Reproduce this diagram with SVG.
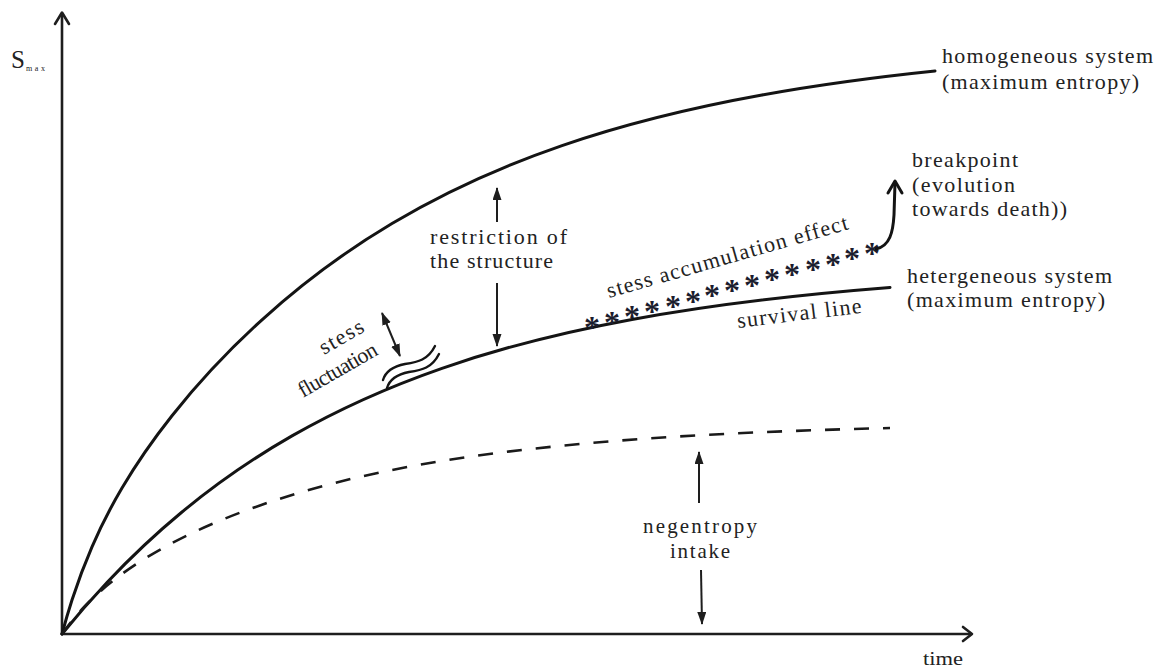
<svg xmlns="http://www.w3.org/2000/svg" width="1157" height="669" viewBox="0 0 1157 669">
<style>
.ax{fill:none;stroke:#1e1e1e;stroke-width:2.6;stroke-linecap:round;stroke-linejoin:round}
.cv{fill:none;stroke:#141414;stroke-width:3;stroke-linecap:round;stroke-linejoin:round}
.dash{fill:none;stroke:#1a1a1a;stroke-width:2.6;stroke-dasharray:15 14}
.arr{fill:none;stroke:#1e1e1e;stroke-width:2}
.lbl{font-family:"Liberation Serif","DejaVu Serif",serif;font-size:22px;fill:#222222}
.ast{font-family:"Liberation Serif","DejaVu Serif",serif;font-size:32px;font-weight:bold;fill:#1b1d2e;text-anchor:middle}
</style>
<defs>
<marker id="ah" markerUnits="userSpaceOnUse" markerWidth="14" markerHeight="10" refX="12" refY="4.5" orient="auto-start-reverse">
<path d="M0,0 L13,4.5 L0,9 z" fill="#1e1e1e"/>
</marker>
</defs>
<rect width="1157" height="669" fill="#ffffff"/>

<g id="axes">
<path class="ax" d="M62,634 L62,14"/>
<path class="ax" d="M55,24 L62,12.5 L69,24"/>
<path class="ax" d="M62,634 L971,634"/>
<path class="ax" d="M963,627 L972,634 L963,641"/>
</g>

<g id="curve-homogeneous">
<path class="cv" d="M62,634 C65.33,621.58 68.67,610.35 72,600 C78.67,579.31 85.33,562.15 92,546.8 C102,523.78 112,504.93 122,488 C138.67,459.78 155.33,436.72 172,415.7 C202,377.87 232,347.04 262,319.8 C305.33,280.45 348.67,249.28 392,223.5 C448.67,189.78 505.33,165.09 562,145.6 C628.67,122.67 695.33,107.03 762,95 C819.67,84.59 877.33,76.95 935,71"/>
</g>
<g id="curve-heterogeneous">
<path class="cv" d="M62,634 C77,615.5 92,598.42 107,582.5 C132,555.96 157,532.67 182,512 C218.67,481.69 255.33,456.91 292,435.9 C342,407.25 392,385.68 442,368.3 C505.33,346.29 568.67,331.08 632,319.4 C718,303.53 804,294.12 890,287.4"/>
</g>
<g id="curve-negentropy">
<path class="dash" d="M62,634 C68.67,624.53 75.33,616.42 82,609.2 C93.67,596.56 105.33,586.57 117,577.7 C135.33,563.77 153.67,552.78 172,543.1 C202,527.26 232,515.08 262,504.7 C305.33,489.71 348.67,478.67 392,470 C448.67,458.66 505.33,451.29 562,445.7 C671.33,434.92 780.67,430.74 890,428"/>
</g>

<g id="stress-squiggle">
<path class="cv" style="stroke-width:2.4" d="M383,380 C386,370 395,366 405,364 C418,362 428,360 435,346"/>
<path class="cv" style="stroke-width:2.4" d="M387,388 C390,378 399,374 409,372 C422,370 432,368 439,354"/>
</g>

<g id="asterisks">
<text class="ast" x="592 612 632 652 673 693 712 732 752 772 792 813 833 852 872" y="338 332.7 327.4 322.1 316.8 311.5 306.3 301 295.7 290.4 285.1 279.8 274.5 269.2 264">***************</text>
</g>

<g id="connectors">
<path class="arr" d="M382,313 L400,356" marker-start="url(#ah)" marker-end="url(#ah)"/>
<path class="arr" d="M497,222 L497,188" marker-end="url(#ah)"/>
<path class="arr" d="M497,283 L497,346" marker-end="url(#ah)"/>
<path class="arr" d="M699,503 L699,452" marker-end="url(#ah)"/>
<path class="arr" d="M701,570 L702,624" marker-end="url(#ah)"/>
<path class="cv" d="M876,249 C890,246 893,232 894,215 L895,183"/>
<path class="cv" d="M888,193 L895,181 L902,193"/>
</g>

<g id="label-smax">
<text x="11" y="68" style="font-family:'Liberation Serif','DejaVu Serif',serif;font-size:25px;fill:#222222">S</text>
<text x="26" y="71" style="font-family:'Liberation Serif','DejaVu Serif',serif;font-size:8px;fill:#222222" textLength="19" lengthAdjust="spacing">max</text>
</g>
<g id="label-time">
<text x="923" y="665" class="lbl" style="font-size:19px" textLength="40" lengthAdjust="spacingAndGlyphs">time</text>
</g>
<g id="label-homogeneous">
<text class="lbl" x="942" y="63" textLength="211" lengthAdjust="spacing">homogeneous system</text>
<text class="lbl" x="942" y="89" textLength="197" lengthAdjust="spacing">(maximum entropy)</text>
</g>
<g id="label-breakpoint">
<text class="lbl" x="912" y="167" textLength="106" lengthAdjust="spacing">breakpoint</text>
<text class="lbl" x="912" y="192" textLength="103" lengthAdjust="spacing">(evolution</text>
<text class="lbl" x="912" y="216" textLength="155" lengthAdjust="spacing">towards death))</text>
</g>
<g id="label-heterogeneous">
<text class="lbl" x="907" y="283" textLength="205" lengthAdjust="spacing">hetergeneous system</text>
<text class="lbl" x="907" y="307" textLength="198" lengthAdjust="spacing">(maximum entropy)</text>
</g>
<g id="label-restriction">
<text class="lbl" x="430" y="244" textLength="137" lengthAdjust="spacing">restriction of</text>
<text class="lbl" x="430" y="268" textLength="123" lengthAdjust="spacing">the structure</text>
</g>
<g id="label-negentropy">
<text class="lbl" x="643" y="533" style="font-size:21px" textLength="114" lengthAdjust="spacing">negentropy</text>
<text class="lbl" x="670" y="558" style="font-size:21px" textLength="60" lengthAdjust="spacing">intake</text>
</g>
<g id="label-accumulation">
<text class="lbl" transform="translate(609,298) rotate(-16)" x="0" y="0" textLength="250" lengthAdjust="spacing">stess accumulation effect</text>
</g>
<g id="label-survival">
<text class="lbl" transform="translate(738,328) rotate(-7)" x="0" y="0" textLength="125" lengthAdjust="spacing">survival line</text>
</g>
<g id="label-stress-fluctuation">
<text class="lbl" transform="translate(324,355) rotate(-30)" x="0" y="0" textLength="48" lengthAdjust="spacing">stess</text>
<text class="lbl" transform="translate(303,398) rotate(-30)" x="0" y="0" textLength="88" lengthAdjust="spacing">fluctuation</text>
</g>
</svg>
